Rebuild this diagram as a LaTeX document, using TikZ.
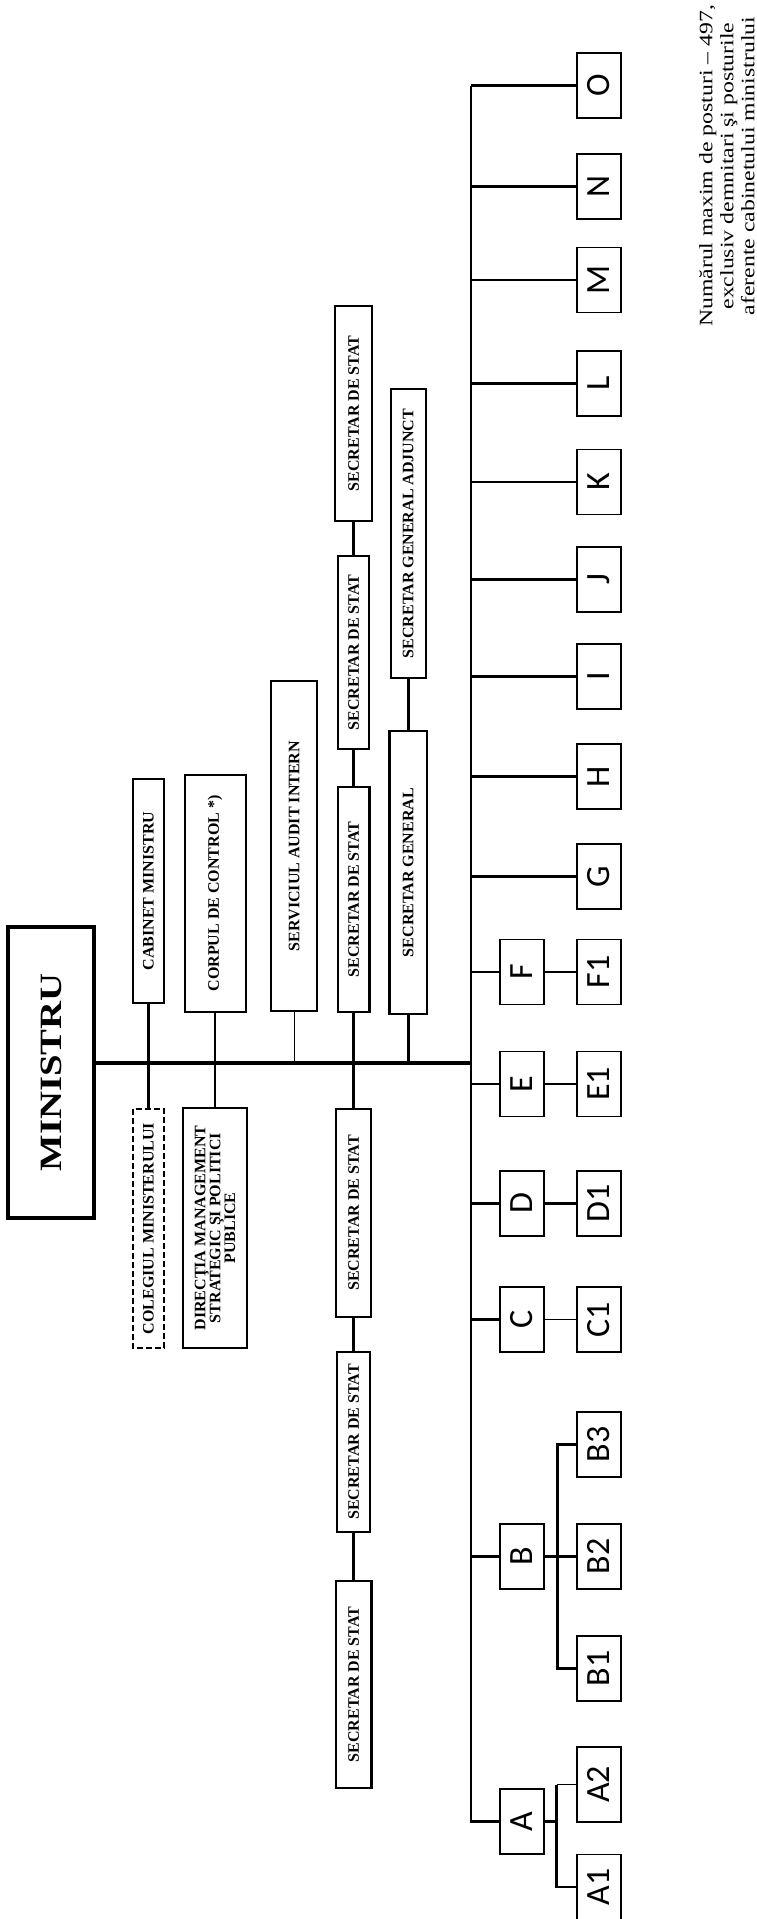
\documentclass[tikz,border=0pt]{standalone}
\usepackage{fontspec}
\usepackage{graphicx}
\setmainfont{Liberation Serif}
\newfontfamily\letterfont{Carlito}

\tikzset{
  unitbox/.style={draw, line width=2.2pt, rotate=90, inner sep=0pt, align=center,
    font=\bfseries\fontsize{16}{13.7}\selectfont},
  dashbox/.style={unitbox, line width=1.8pt, dash pattern=on 6pt off 3pt},
  letterbox/.style={draw, line width=1.4pt, rotate=90, inner sep=0pt,
    minimum width=65pt, minimum height=44pt, font=\letterfont\fontsize{34}{34}\selectfont},
  link/.style={line width=2.6pt},
  thinlink/.style={line width=1.1pt},
  mainline/.style={line width=3.3pt},
}

\begin{document}
\begin{tikzpicture}[x=0.81485pt,y=-1pt]
		\useasboundingbox (0,0) rectangle (929,1919);
		\node[draw,line width=4pt,rotate=90,minimum width=291pt,minimum height=86pt,inner sep=0pt,
			font=\bfseries\fontsize{31}{31}\selectfont] (min) at (63,1072.5) {\scalebox{1.25}[1]{MINISTRU}};
		\coordinate (hub) at (578,1063);
		\coordinate (trunk) at (578,0);
		\node[rotate=90,align=center,font=\fontsize{19}{21}\selectfont] (note) at (892,166)
			{\scalebox{1.25}[1]{Numărul maxim de posturi -- 497,}\\ \scalebox{1.25}[1]{exclusiv demnitari şi posturile}\\ \scalebox{1.25}[1]{aferente cabinetului ministrului}};
		\node[unitbox,minimum width=224pt,minimum height=31pt] (cab) at (182,891) {CABINET MINISTRU};
		\node[dashbox,minimum width=239pt,minimum height=31pt] (col) at (182,1228.5) {COLEGIUL MINISTERULUI};
		\node[unitbox,minimum width=237pt,minimum height=61pt] (corp) at (264,893.5) {CORPUL DE CONTROL *)};
		\node[unitbox,minimum width=240pt,minimum height=63.6pt] (dir) at (264,1228) {DIRECŢIA MANAGEMENT\\ STRATEGIC ŞI POLITICI\\ PUBLICE};
		\node[unitbox,minimum width=330pt,minimum height=45.6pt] (serv) at (361,846) {SERVICIUL AUDIT INTERN};
		\node[unitbox,minimum width=215pt,minimum height=37.5pt] (s1) at (434,413.5) {SECRETAR DE STAT};
		\node[unitbox,minimum width=193pt,minimum height=31pt] (s2) at (434,652.5) {SECRETAR DE STAT};
		\node[unitbox,minimum width=225pt,minimum height=31.8pt] (s3) at (434,899.5) {SECRETAR DE STAT};
		\node[unitbox,minimum width=208pt,minimum height=35pt] (s4) at (434,1213) {SECRETAR DE STAT};
		\node[unitbox,minimum width=180pt,minimum height=33.4pt] (s5) at (434,1442) {SECRETAR DE STAT};
		\node[unitbox,minimum width=207pt,minimum height=35.9pt] (s6) at (434,1684.5) {SECRETAR DE STAT};
		\node[unitbox,minimum width=289pt,minimum height=35pt] (sadj) at (501,533.5) {SECRETAR GENERAL ADJUNCT};
		\node[unitbox,minimum width=283pt,minimum height=37.5pt] (sgen) at (501,872.5) {SECRETAR GENERAL};
		% directii
		\node[letterbox] (O) at (735,85.5) {O};
		\node[letterbox] (N) at (735,186.5) {N};
		\node[letterbox] (M) at (735,280) {M};
		\node[letterbox] (L) at (735,383.5) {L};
		\node[letterbox] (K) at (735,482) {K};
		\node[letterbox] (J) at (735,579.5) {J};
		\node[letterbox] (I) at (735,676.5) {I};
		\node[letterbox] (H) at (735,776.5) {H};
		\node[letterbox] (G) at (735,876.5) {G};
		\node[letterbox] (F) at (640.5,972) {F};
		\node[letterbox] (F1) at (735,972) {F1};
		\node[letterbox] (E) at (640.5,1084) {E};
		\node[letterbox] (E1) at (735,1084) {E1};
		\node[letterbox] (D) at (640.5,1203.5) {D};
		\node[letterbox] (D1) at (735,1203.5) {D1};
		\node[letterbox] (C) at (640.5,1319.5) {C};
		\node[letterbox] (C1) at (735,1319.5) {C1};
		\node[letterbox] (B) at (640.5,1556.5) {B};
		\node[letterbox] (B3) at (735,1444.5) {B3};
		\node[letterbox] (B2) at (735,1556.5) {B2};
		\node[letterbox] (B1) at (735,1668.5) {B1};
		\node[letterbox] (A) at (640.5,1821.5) {A};
		\node[letterbox,minimum width=75pt] (A2) at (735,1784.5) {A2};
		\node[letterbox] (A1) at (735,1887) {A1};
		\coordinate (bfork) at (684,1556.5);
		\coordinate (afork) at (683,1821.5);
		% legaturi
		\draw[mainline] (min.south |- hub) -- (hub);
		\draw[link] (cab) -- (col);
		\draw[link] (corp) -- (dir);
		\draw[thinlink] (serv) -- (serv |- hub);
		\draw[link] (s1) -- (s2);
		\draw[link] (s2) -- (s3);
		\draw[link] (s3) -- (s4);
		\draw[link] (s4) -- (s5);
		\draw[link] (s5) -- (s6);
		\draw[link] (sadj) -- (sgen);
		\draw[link] (sgen) -- (sgen |- hub);
		\draw[link] (O -| trunk) -- (A -| trunk) -- (A);
		\draw[link] (O -| trunk) -- (O);
		\draw[link] (N -| trunk) -- (N);
		\draw[link] (M -| trunk) -- (M);
		\draw[link] (L -| trunk) -- (L);
		\draw[link] (K -| trunk) -- (K);
		\draw[link] (J -| trunk) -- (J);
		\draw[link] (I -| trunk) -- (I);
		\draw[link] (H -| trunk) -- (H);
		\draw[link] (G -| trunk) -- (G);
		\draw[link] (F -| trunk) -- (F);
		\draw[thinlink] (F) -- (F1);
		\draw[link] (E -| trunk) -- (E);
		\draw[link] (E) -- (E1);
		\draw[link] (D -| trunk) -- (D);
		\draw[link] (D) -- (D1);
		\draw[link] (C -| trunk) -- (C);
		\draw[thinlink] (C) -- (C1);
		\draw[link] (B -| trunk) -- (B);
		\draw[link] (B) -- (B2);
		\draw[link] (B3) -| (bfork) |- (B1);
		\draw[link] (A) -- (afork);
		\draw[link] (afork |- A2) -- (afork |- A1) -- (A1);
		\draw[thinlink] (afork |- A2) -- (A2);
\end{tikzpicture}
\end{document}
